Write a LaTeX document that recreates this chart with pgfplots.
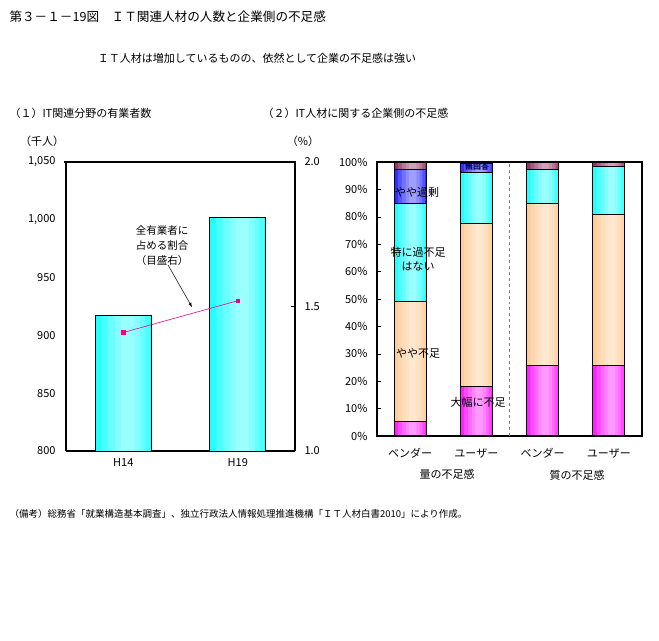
\documentclass[border=0pt]{standalone}
\usepackage{pgfplots}
\pgfplotsset{compat=1.18}
\usepackage{fontspec}
\setmainfont{Noto Sans CJK JP}
\definecolor{cyA}{HTML}{22FFFF}
\definecolor{mgA}{HTML}{FF22FF}
\definecolor{pcA}{HTML}{FFCC99}
\definecolor{blA}{HTML}{2E2EFF}
\definecolor{mvA}{HTML}{993366}
\pgfplotsset{
  wl/.style={fill=white, fill opacity=0.18, draw=none},
  ol/.style={draw=black, fill=none, line width=1pt},
}
\begin{document}
\begin{tikzpicture}[font=\fontsize{11bp}{13bp}\selectfont]
\path[use as bounding box] (0,0) rectangle (659bp,-641bp);
% titles
\node[anchor=west] at (6bp,-17bp) {\fontsize{12.6bp}{14bp}\selectfont 第３－１－19図　ＩＴ関連人材の人数と企業側の不足感};
\node at (257bp,-58bp) {\fontsize{11bp}{13bp}\selectfont ＩＴ人材は増加しているものの、依然として企業の不足感は強い};
\node[anchor=west] at (6bp,-113bp) {（１）IT関連分野の有業者数};
\node[anchor=west] at (259bp,-113bp) {（２）IT人材に関する企業側の不足感};
\node at (42bp,-141bp) {（千人）};
\node at (303bp,-141bp) {（\%）};
\node[anchor=west] at (6bp,-514bp) {\fontsize{9.5bp}{11bp}\selectfont （備考）総務省「就業構造基本調査」、独立行政法人情報処理推進機構「ＩＴ人材白書2010」により作成。};

% left chart: bars
\begin{axis}[
  at={(66bp,-451bp)}, anchor=south west,
  scale only axis, width=229bp, height=289bp,
  xmin=-0.5, xmax=1.5, ymin=800, ymax=1050,
  axis y line*=left, axis x line*=bottom,
  axis line style={line width=1.6pt},
  xtick={0,1}, xticklabels={H14,H19},
  ytick={800,850,900,950,1000,1050},
  yticklabels={800,850,900,950,{1,000},{1,050}},
  major tick length=0pt,
  yticklabel style={xshift=-7bp},
  xticklabel style={yshift=-4bp},
  /pgf/number format/assume math mode=true,
  clip=true, ybar,
]
\addplot[bar width=0.49, bar shift=0, fill=cyA, draw=none] coordinates {(0,917) (1,1002)};
\addplot[bar width=0.42, bar shift=0.02, wl] coordinates {(0,917) (1,1002)};
\addplot[bar width=0.32, bar shift=0.03, wl] coordinates {(0,917) (1,1002)};
\addplot[bar width=0.22, bar shift=0.04, wl] coordinates {(0,917) (1,1002)};
\addplot[bar width=0.12, bar shift=0.04, wl] coordinates {(0,917) (1,1002)};
\addplot[bar width=0.49, bar shift=0, fill=none, draw=black, line width=0.7pt] coordinates {(0,917) (1,1002)};
\end{axis}
\draw[line width=1.6pt] (64bp,-162bp) -- (296bp,-162bp);
% left chart: line on right axis
\begin{axis}[
  at={(66bp,-451bp)}, anchor=south west,
  scale only axis, width=229bp, height=289bp,
  xmin=-0.5, xmax=1.5, ymin=1, ymax=2,
  axis y line*=right, axis x line=none,
  axis line style={line width=1.6pt},
  ytick={1,1.5,2}, yticklabels={1.0,1.5,2.0},
  tick align=inside, major tick length=4bp,
  tick style={black, line width=0.5pt},
  yticklabel style={xshift=6bp},
]
\addplot[color=magenta, line width=0.6pt, mark=square*, mark size=1.8pt,
  mark options={fill=magenta, draw=magenta}]
  coordinates {(0,1.41) (1,1.52)};
\end{axis}
% annotation
\node[align=center, font=\fontsize{10.5bp}{15bp}\selectfont] at (162bp,-246bp) {全有業者に\\占める割合\\（目盛右）};
\draw[-latex, line width=0.5pt] (168bp,-265bp) -- (192bp,-307bp);

% right chart: fills
\begin{axis}[
  at={(377bp,-436bp)}, anchor=south west,
  scale only axis, width=265bp, height=274bp,
  xmin=-0.5, xmax=3.5, ymin=0, ymax=100,
  hide axis, ybar stacked, bar width=0.48,
]
\addplot[fill=mgA, draw=none] coordinates {(0,5.2) (1,17.9) (2,25.9) (3,25.9)};
\addplot[fill=pcA, draw=none] coordinates {(0,43.8) (1,59.7) (2,58.8) (3,55.0)};
\addplot[fill=cyA, draw=none] coordinates {(0,35.7) (1,18.6) (2,12.4) (3,17.6)};
\addplot[fill=blA, draw=none] coordinates {(0,12.7) (1,3.3) (2,0) (3,0)};
\addplot[fill=mvA, draw=none] coordinates {(0,2.6) (1,0.5) (2,2.9) (3,1.5)};
\end{axis}
% right chart: light overlays
\begin{axis}[
  at={(377bp,-436bp)}, anchor=south west,
  scale only axis, width=265bp, height=274bp,
  xmin=-0.5, xmax=3.5, ymin=0, ymax=100,
  hide axis, ybar,
]
\addplot[bar width=0.41, bar shift=0.02, wl] coordinates {(0,100) (1,100) (2,100) (3,100)};
\addplot[bar width=0.31, bar shift=0.03, wl] coordinates {(0,100) (1,100) (2,100) (3,100)};
\addplot[bar width=0.21, bar shift=0.04, wl] coordinates {(0,100) (1,100) (2,100) (3,100)};
\addplot[bar width=0.11, bar shift=0.04, wl] coordinates {(0,100) (1,100) (2,100) (3,100)};
\end{axis}
% right chart: outlines and axis
\begin{axis}[
  at={(377bp,-436bp)}, anchor=south west,
  scale only axis, width=265bp, height=274bp,
  xmin=-0.5, xmax=3.5, ymin=0, ymax=100,
  axis line style={line width=1.6pt},
  ybar stacked, bar width=0.48,
  xtick={0,1,2,3},
  xticklabels={ベンダー,ユーザー,ベンダー,ユーザー},
  extra x ticks={-0.5,0.5,1.5,2.5,3.5},
  extra x tick labels={},
  extra x tick style={major tick length=5bp, tick align=outside, tick style={black, line width=0.6pt}},
  ytick={0,10,...,100},
  yticklabel={\pgfmathprintnumber{\tick}\%},
  yticklabel style={xshift=-6bp},
  ytick pos=left, xtick pos=bottom,
  major tick length=4bp, tick align=inside,
  x tick style={draw=none},
  y tick style={black, line width=0.5pt},
  xticklabel style={yshift=-9bp},
  /pgf/number format/assume math mode=true,
]
\addplot[ol] coordinates {(0,5.2) (1,17.9) (2,25.9) (3,25.9)};
\addplot[ol] coordinates {(0,43.8) (1,59.7) (2,58.8) (3,55.0)};
\addplot[ol] coordinates {(0,35.7) (1,18.6) (2,12.4) (3,17.6)};
\addplot[ol] coordinates {(0,12.7) (1,3.3) (2,0) (3,0)};
\addplot[ol] coordinates {(0,2.6) (1,0.5) (2,2.9) (3,1.5)};
\draw[gray, dashed, line width=1pt] (axis cs:1.5,0) -- (axis cs:1.5,100);
\end{axis}
% right chart labels
\node at (417bp,-192bp) {やや過剰};
\node[align=center, font=\fontsize{11bp}{14bp}\selectfont] at (418bp,-259bp) {特に過不足\\はない};
\node at (418bp,-353bp) {やや不足};
\node at (478bp,-402bp) {大幅に不足};
\node[text=blue!40!black, font=\fontsize{8bp}{9bp}\selectfont\bfseries] at (477bp,-166bp) {無回答};
\node at (447bp,-474bp) {量の不足感};
\node at (577bp,-475bp) {質の不足感};
\end{tikzpicture}
\end{document}
